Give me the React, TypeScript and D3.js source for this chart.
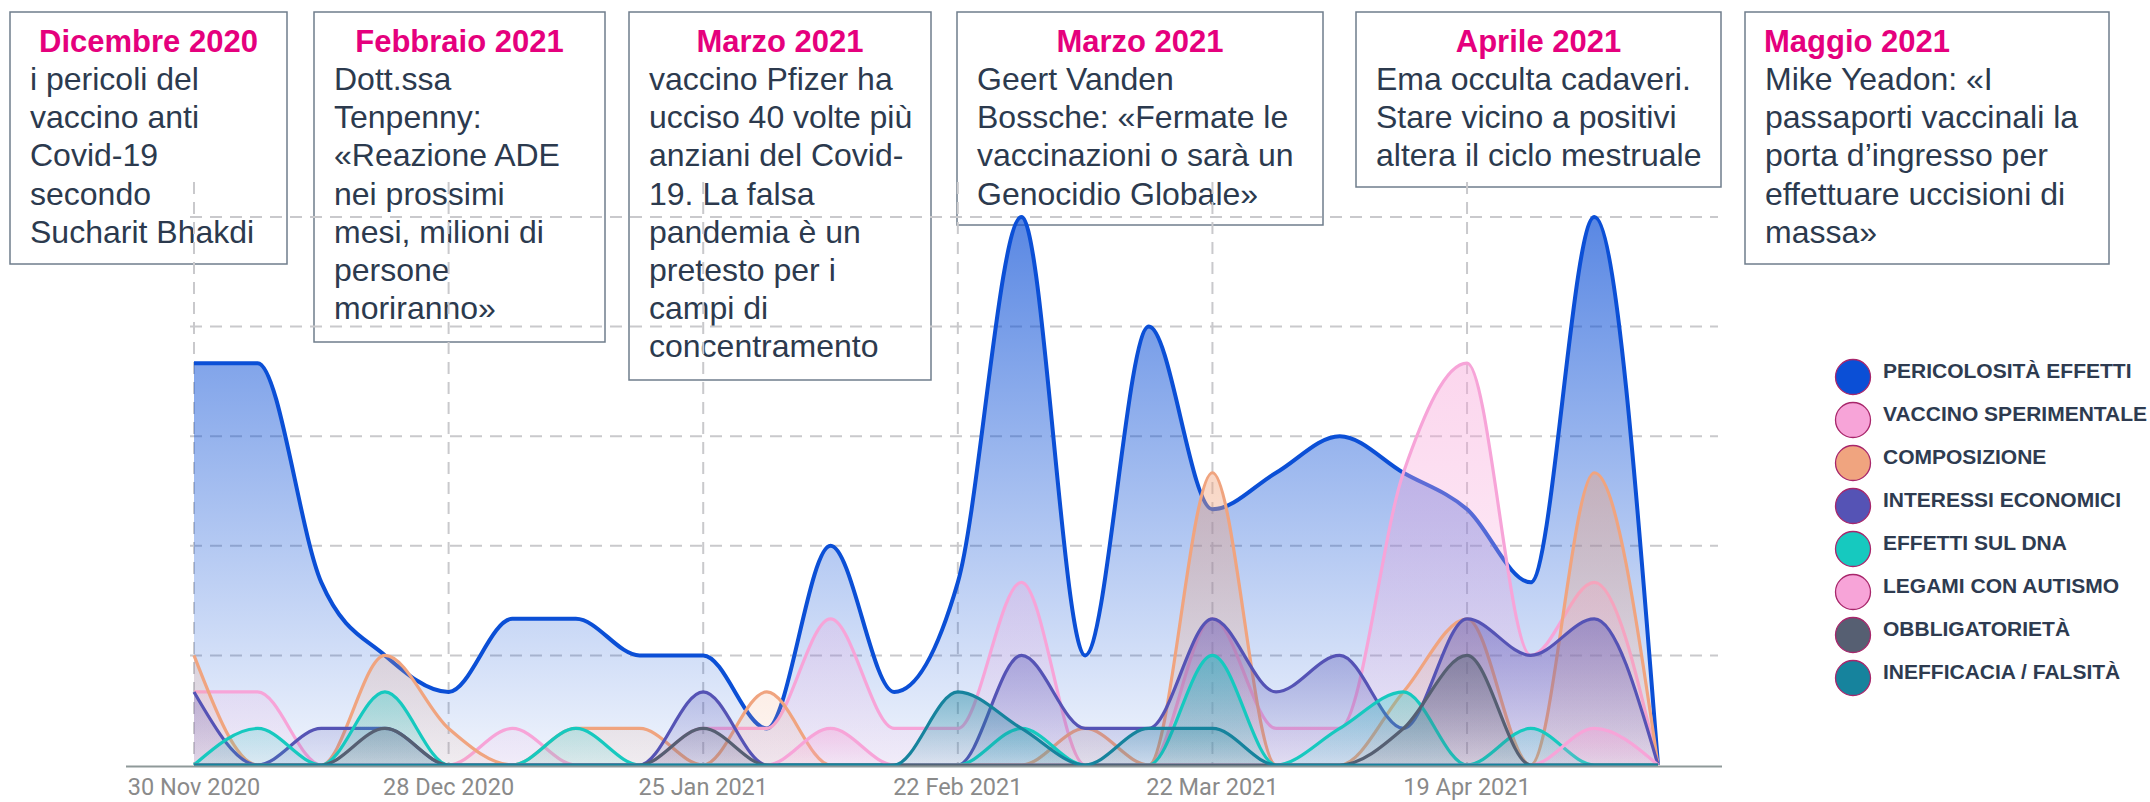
import React from 'react';
import * as d3 from 'd3';

// weekly points
const weekDates = [
  '2020-11-30', '2020-12-07', '2020-12-14', '2020-12-21', '2020-12-28', '2021-01-04',
  '2021-01-11', '2021-01-18', '2021-01-25', '2021-02-01', '2021-02-08', '2021-02-15',
  '2021-02-22', '2021-03-01', '2021-03-08', '2021-03-15', '2021-03-22', '2021-03-29',
  '2021-04-05', '2021-04-12', '2021-04-19', '2021-04-26', '2021-05-03', '2021-05-10',
];

const pericolosita = [11, 11, 5, 3, 2, 4, 4, 3, 3, 1, 6, 2, 5, 15, 3, 12, 7, 8, 9, 8, 7, 5, 15, 0];
const vaccinoSperimentale = [2, 2, 0, 0, 0, 1, 0, 0, 1, 1, 4, 1, 1, 5, 0, 0, 4, 1, 1, 8, 11, 3, 5, 0];
const composizione = [3, 0, 0, 3, 1, 0, 1, 1, 0, 2, 0, 0, 0, 0, 1, 0, 8, 0, 0, 2, 4, 0, 8, 0];
const interessiEconomici = [2, 0, 1, 1, 0, 0, 0, 0, 2, 0, 0, 0, 0, 3, 1, 1, 4, 2, 3, 1, 4, 3, 4, 0];
const effettiDna = [0, 1, 0, 2, 0, 0, 1, 0, 0, 0, 0, 0, 0, 1, 0, 0, 3, 0, 1, 2, 0, 1, 0, 0];
const legamiAutismo = [0, 0, 0, 0, 0, 0, 0, 0, 0, 0, 1, 0, 0, 0, 0, 0, 0, 0, 0, 0, 0, 0, 1, 0];
const obbligatorieta = [0, 0, 0, 1, 0, 0, 0, 0, 1, 0, 0, 0, 0, 0, 0, 0, 0, 0, 0, 1, 3, 0, 0, 0];
const inefficacia = [0, 0, 0, 0, 0, 0, 0, 0, 0, 0, 0, 0, 2, 1, 0, 1, 1, 0, 0, 0, 0, 0, 0, 0];

const seriesNames = [
  'PERICOLOSITÀ EFFETTI', 'VACCINO SPERIMENTALE', 'COMPOSIZIONE', 'INTERESSI ECONOMICI',
  'EFFETTI SUL DNA', 'LEGAMI CON AUTISMO', 'OBBLIGATORIETÀ', 'INEFFICACIA / FALSITÀ',
];
const seriesValues = [
  pericolosita, vaccinoSperimentale, composizione, interessiEconomici,
  effettiDna, legamiAutismo, obbligatorieta, inefficacia,
];
const seriesColors = ['#0b4fd6', '#f7a4d8', '#f0a47f', '#5553b5', '#16c9bf', '#f7a4d8', '#565f72', '#16839d'];

const tickDates = ['2020-11-30', '2020-12-28', '2021-01-25', '2021-02-22', '2021-03-22', '2021-04-19'];
const yTicks = [3, 6, 9, 12, 15];

const noteTitles = ['Dicembre 2020', 'Febbraio 2021', 'Marzo 2021', 'Marzo 2021', 'Aprile 2021', 'Maggio 2021'];
const noteLines = [
  ['i pericoli del', 'vaccino anti', 'Covid-19', 'secondo', 'Sucharit Bhakdi'],
  ['Dott.ssa', 'Tenpenny:', '«Reazione ADE', 'nei prossimi', 'mesi, milioni di', 'persone', 'moriranno»'],
  ['vaccino Pfizer ha', 'ucciso 40 volte più', 'anziani del Covid-', '19. La falsa', 'pandemia è un', 'pretesto per i', 'campi di', 'concentramento'],
  ['Geert Vanden', 'Bossche: «Fermate le', 'vaccinazioni o sarà un', 'Genocidio Globale»'],
  ['Ema occulta cadaveri.', 'Stare vicino a positivi', 'altera il ciclo mestruale'],
  ['Mike Yeadon: «I', 'passaporti vaccinali la', 'porta d’ingresso per', 'effettuare uccisioni di', 'massa»'],
];

// box placement (layout only)
const noteBoxes = [
  { x: 10, w: 277, h: 252, center: true },
  { x: 314, w: 291, h: 330, center: true },
  { x: 629, w: 302, h: 368, center: true },
  { x: 957, w: 366, h: 213, center: true },
  { x: 1356, w: 365, h: 175, center: true },
  { x: 1745, w: 364, h: 252, center: false },
];

const FONT = '"Liberation Sans", Arial, sans-serif';
const parse = d3.timeParse('%Y-%m-%d');
const fmt = d3.timeFormat('%-d %b %Y');

const App: React.FC = () => {
  const dates = weekDates.map(d => parse(d) as Date);

  const x = d3.scaleTime()
    .domain([dates[0], dates[dates.length - 1]])
    .range([194, 1658]);
  const y = d3.scaleLinear().domain([0, 15]).range([765, 217]);

  const area = d3.area<number>()
    .x((_d, i) => x(dates[i]))
    .y0(y(0))
    .y1(d => y(d))
    .curve(d3.curveMonotoneX);
  const line = d3.line<number>()
    .x((_d, i) => x(dates[i]))
    .y(d => y(d))
    .curve(d3.curveMonotoneX);

  return (
    <svg width={2150} height={802} style={{ position: 'absolute', left: 0, top: 0, background: '#fff' }}>
      <defs>
        {seriesColors.map((c, i) => (
          <linearGradient key={i} id={`g${i}`} x1="0" y1="0" x2="0" y2="1">
            <stop offset="0" stopColor={c} stopOpacity={i === 0 ? 0.68 : 0.45} />
            <stop offset="1" stopColor={c} stopOpacity={i === 0 ? 0.06 : 0.1} />
          </linearGradient>
        ))}
      </defs>

      {/* annotation boxes */}
      {noteBoxes.map((b, i) => (
        <g key={i}>
          <rect x={b.x} y={12} width={b.w} height={b.h} fill="none" stroke="#6f7d8c" strokeWidth={1.5} />
          <text
            x={b.center ? b.x + b.w / 2 : b.x + 19}
            y={52}
            textAnchor={b.center ? 'middle' : 'start'}
            fontFamily={FONT}
            fontWeight="bold"
            fontSize={31}
            fill="#e5007d"
          >
            {noteTitles[i]}
          </text>
          {noteLines[i].map((t, j) => (
            <text key={j} x={b.x + 20} y={90 + j * 38.2} fontFamily={FONT} fontSize={32} fill="#2c3a4e">
              {t}
            </text>
          ))}
        </g>
      ))}

      {/* grid */}
      <g stroke="#c9c9cc" strokeWidth={2} strokeDasharray="12 8">
        {yTicks.map(t => (
          <line key={t} x1={190} x2={1718} y1={y(t)} y2={y(t)} />
        ))}
        {tickDates.map(t => (
          <line key={t} x1={x(parse(t) as Date)} x2={x(parse(t) as Date)} y1={182} y2={765} />
        ))}
      </g>

      {/* series */}
      {seriesValues.map((vals, i) => (
        <g key={i}>
          <path d={area(vals) || ''} fill={`url(#g${i})`} />
          <path d={line(vals) || ''} fill="none" stroke={seriesColors[i]} strokeWidth={i === 0 ? 4 : 3.2} />
        </g>
      ))}

      {/* x axis */}
      <line x1={126} x2={1722} y1={766.5} y2={766.5} stroke="#8f9999" strokeWidth={2} />
      {tickDates.map(t => (
        <text
          key={t}
          x={x(parse(t) as Date)}
          y={795}
          textAnchor="middle"
          fontFamily="Roboto, sans-serif"
          fontSize={23.5}
          fill="#8a8a8a"
        >
          {fmt(parse(t) as Date)}
        </text>
      ))}

      {/* legend */}
      {seriesNames.map((n, i) => (
        <g key={n} transform={`translate(1853,${377 + i * 43})`}>
          <circle r={17.5} fill={seriesColors[i]} stroke="#a8266b" strokeWidth={1.3} />
          <text x={30} y={0.5} fontFamily={FONT} fontWeight="bold" fontSize={21} fill="#2e3b50">
            {n}
          </text>
        </g>
      ))}
    </svg>
  );
};

export default App;
